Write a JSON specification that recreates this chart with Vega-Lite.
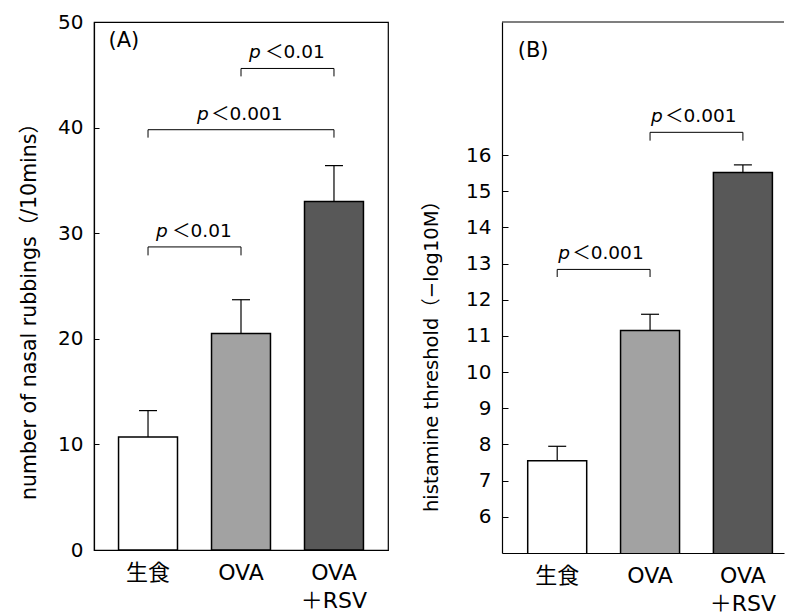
{
  "$schema": "https://vega.github.io/schema/vega-lite/v6.json",
  "padding": {"left": 18, "top": 11, "right": 0, "bottom": 0},
  "spacing": 32,
  "config": {
    "font": "DejaVu Sans, Noto Sans CJK JP",
    "view": {"stroke": "black", "strokeWidth": 1.2},
    "axis": {
      "grid": false,
      "domainColor": "black",
      "domainWidth": 1.2,
      "tickColor": "black",
      "labelColor": "black",
      "titleColor": "black",
      "labelFont": "DejaVu Sans, Noto Sans CJK JP",
      "titleFont": "DejaVu Sans, Noto Sans CJK JP",
      "labelFontSize": 20,
      "titleFontSize": 20.5,
      "titleFontWeight": "normal"
    },
    "text": {"color": "black", "font": "DejaVu Sans, Noto Sans CJK JP"}
  },
  "datasets": {
    "rubbing": [
      {"group": "生食", "mean": 10.7, "hi": 13.2},
      {"group": "OVA", "mean": 20.5, "hi": 23.7},
      {"group": "OVA＋RSV", "mean": 33.0, "hi": 36.4}
    ],
    "rubbingTests": [
      {"from": "生食", "to": "OVA", "y": 28.7, "foot": 27.9, "span": 1, "p": "＜0.01"},
      {"from": "生食", "to": "OVA＋RSV", "y": 39.8, "foot": 39.05, "span": 2, "p": "＜0.001"},
      {"from": "OVA", "to": "OVA＋RSV", "y": 45.6, "foot": 44.85, "span": 1, "p": "＜0.01"}
    ],
    "histamine": [
      {"group": "生食", "mean": 7.55, "hi": 7.95},
      {"group": "OVA", "mean": 11.15, "hi": 11.6},
      {"group": "OVA＋RSV", "mean": 15.52, "hi": 15.73}
    ],
    "histamineTests": [
      {"from": "生食", "to": "OVA", "y": 12.84, "foot": 12.63, "span": 1, "p": "＜0.001"},
      {"from": "OVA", "to": "OVA＋RSV", "y": 16.63, "foot": 16.4, "span": 1, "p": "＜0.001"}
    ]
  },
  "hconcat": [
    {
      "width": 294,
      "height": 528,
      "layer": [
        {
          "data": {"name": "rubbing"},
          "mark": {"type": "bar", "stroke": "black", "strokeWidth": 1.5},
          "encoding": {
            "x": {
              "field": "group", "type": "nominal", "title": null,
              "scale": {"domain": ["生食", "OVA", "OVA＋RSV"], "paddingInner": 0.366, "paddingOuter": 0.264},
              "axis": {"labelAngle": 0, "ticks": false, "labelPadding": 12, "labelBaseline": "top", "labelLineHeight": 28, "labelFontSize": 22,
                       "labelExpr": "datum.label == 'OVA＋RSV' ? ['OVA', '＋RSV'] : datum.label"}
            },
            "y": {
              "field": "mean", "type": "quantitative",
              "title": "number of nasal rubbings（/10mins）",
              "scale": {"domain": [0, 50], "nice": false},
              "axis": {"values": [0, 10, 20, 30, 40, 50], "tickSize": -5, "labelPadding": 16, "titlePadding": 18, "titleY": 284}
            },
            "fill": {"field": "group", "type": "nominal", "legend": null,
                     "scale": {"domain": ["生食", "OVA", "OVA＋RSV"], "range": ["#ffffff", "#a2a2a2", "#585858"]}}
          }
        },
        {
          "data": {"values": [{"panel": "(A)"}]},
          "mark": {"type": "text", "fontSize": 21, "align": "left", "baseline": "alphabetic", "dx": -10, "dy": 25},
          "encoding": {
            "x": {"datum": "生食", "type": "nominal", "bandPosition": 0, "scale": {"domain": ["生食", "OVA", "OVA＋RSV"]}},
            "y": {"datum": 50, "type": "quantitative"},
            "text": {"field": "panel"}
          }
        },
        {
          "data": {"name": "rubbing"},
          "mark": {"type": "rule", "strokeWidth": 1.2, "color": "black"},
          "encoding": {
            "x": {"field": "group", "type": "nominal", "scale": {"domain": ["生食", "OVA", "OVA＋RSV"]}},
            "y": {"field": "mean", "type": "quantitative"},
            "y2": {"field": "hi"}
          }
        },
        {
          "data": {"name": "rubbing"},
          "mark": {"type": "tick", "thickness": 1.2, "size": 18, "color": "black", "opacity": 1},
          "encoding": {
            "x": {"field": "group", "type": "nominal", "scale": {"domain": ["生食", "OVA", "OVA＋RSV"]}},
            "y": {"field": "hi", "type": "quantitative"}
          }
        },
        {
          "data": {"name": "rubbingTests"},
          "mark": {"type": "rule", "strokeWidth": 1, "color": "black"},
          "encoding": {
            "x": {"field": "from", "type": "nominal", "scale": {"domain": ["生食", "OVA", "OVA＋RSV"]}},
            "x2": {"field": "to"},
            "y": {"field": "y", "type": "quantitative"}
          }
        },
        {
          "data": {"name": "rubbingTests"},
          "transform": [{"fold": ["from", "to"], "as": ["end", "at"]}],
          "mark": {"type": "rule", "strokeWidth": 1, "color": "black"},
          "encoding": {
            "x": {"field": "at", "type": "nominal", "scale": {"domain": ["生食", "OVA", "OVA＋RSV"]}},
            "y": {"field": "y", "type": "quantitative"},
            "y2": {"field": "foot"}
          }
        },
        {
          "data": {"name": "rubbingTests"},
          "transform": [{"filter": "datum.span == 1"}],
          "mark": {"type": "text", "fontStyle": "italic", "fontSize": 18.5, "align": "left", "baseline": "alphabetic", "dx": 8, "dy": -10},
          "encoding": {
            "x": {"field": "from", "type": "nominal", "scale": {"domain": ["生食", "OVA", "OVA＋RSV"]}},
            "y": {"field": "y", "type": "quantitative"},
            "text": {"value": "p"}
          }
        },
        {
          "data": {"name": "rubbingTests"},
          "transform": [{"filter": "datum.span == 1"}],
          "mark": {"type": "text", "fontSize": 18.5, "align": "left", "baseline": "alphabetic", "dx": 24, "dy": -10},
          "encoding": {
            "x": {"field": "from", "type": "nominal", "scale": {"domain": ["生食", "OVA", "OVA＋RSV"]}},
            "y": {"field": "y", "type": "quantitative"},
            "text": {"field": "p"}
          }
        },
        {
          "data": {"name": "rubbingTests"},
          "transform": [{"filter": "datum.span == 2"}],
          "mark": {"type": "text", "fontStyle": "italic", "fontSize": 18.5, "align": "left", "baseline": "alphabetic", "dx": 49, "dy": -10},
          "encoding": {
            "x": {"field": "from", "type": "nominal", "scale": {"domain": ["生食", "OVA", "OVA＋RSV"]}},
            "y": {"field": "y", "type": "quantitative"},
            "text": {"value": "p"}
          }
        },
        {
          "data": {"name": "rubbingTests"},
          "transform": [{"filter": "datum.span == 2"}],
          "mark": {"type": "text", "fontSize": 18.5, "align": "left", "baseline": "alphabetic", "dx": 63, "dy": -10},
          "encoding": {
            "x": {"field": "from", "type": "nominal", "scale": {"domain": ["生食", "OVA", "OVA＋RSV"]}},
            "y": {"field": "y", "type": "quantitative"},
            "text": {"field": "p"}
          }
        }
      ]
    },
    {
      "width": 282,
      "height": 531,
      "view": {"stroke": null},
      "layer": [
        {
          "data": {"name": "histamine"},
          "mark": {"type": "bar", "stroke": "black", "strokeWidth": 1.5, "clip": true},
          "encoding": {
            "x": {
              "field": "group", "type": "nominal", "title": null,
              "scale": {"domain": ["生食", "OVA", "OVA＋RSV"], "paddingInner": 0.3646, "paddingOuter": 0.2009, "align": 0.689},
              "axis": {"labelAngle": 0, "ticks": false, "labelPadding": 12, "labelBaseline": "top", "labelLineHeight": 28, "labelFontSize": 22,
                       "labelExpr": "datum.label == 'OVA＋RSV' ? ['OVA', '＋RSV'] : datum.label"}
            },
            "y": {
              "field": "mean", "type": "quantitative",
              "title": "histamine threshold（−log10M）",
              "scale": {"domain": [5, 19.68], "nice": false, "zero": false},
              "axis": {"values": [6, 7, 8, 9, 10, 11, 12, 13, 14, 15, 16], "tickSize": -6, "labelPadding": 17, "titlePadding": 24, "titleY": 329, "titleFontSize": 19.5}
            },
            "fill": {"field": "group", "type": "nominal", "legend": null,
                     "scale": {"domain": ["生食", "OVA", "OVA＋RSV"], "range": ["#ffffff", "#a2a2a2", "#585858"]}}
          }
        },
        {
          "data": {"values": [{"panel": "(B)"}]},
          "mark": {"type": "text", "fontSize": 21, "align": "left", "baseline": "alphabetic", "dx": -10, "dy": 35},
          "encoding": {
            "x": {"datum": "生食", "type": "nominal", "bandPosition": 0, "scale": {"domain": ["生食", "OVA", "OVA＋RSV"]}},
            "y": {"datum": 19.68, "type": "quantitative"},
            "text": {"field": "panel"}
          }
        },
        {
          "data": {"values": [{"edge": "top"}]},
          "mark": {"type": "rule", "strokeWidth": 1.2, "color": "black"},
          "encoding": {"y": {"datum": 19.68, "type": "quantitative"}}
        },
        {
          "data": {"name": "histamine"},
          "mark": {"type": "rule", "strokeWidth": 1.2, "color": "black"},
          "encoding": {
            "x": {"field": "group", "type": "nominal", "scale": {"domain": ["生食", "OVA", "OVA＋RSV"]}},
            "y": {"field": "mean", "type": "quantitative"},
            "y2": {"field": "hi"}
          }
        },
        {
          "data": {"name": "histamine"},
          "mark": {"type": "tick", "thickness": 1.2, "size": 18, "color": "black", "opacity": 1},
          "encoding": {
            "x": {"field": "group", "type": "nominal", "scale": {"domain": ["生食", "OVA", "OVA＋RSV"]}},
            "y": {"field": "hi", "type": "quantitative"}
          }
        },
        {
          "data": {"name": "histamineTests"},
          "mark": {"type": "rule", "strokeWidth": 1, "color": "black"},
          "encoding": {
            "x": {"field": "from", "type": "nominal", "scale": {"domain": ["生食", "OVA", "OVA＋RSV"]}},
            "x2": {"field": "to"},
            "y": {"field": "y", "type": "quantitative"}
          }
        },
        {
          "data": {"name": "histamineTests"},
          "transform": [{"fold": ["from", "to"], "as": ["end", "at"]}],
          "mark": {"type": "rule", "strokeWidth": 1, "color": "black"},
          "encoding": {
            "x": {"field": "at", "type": "nominal", "scale": {"domain": ["生食", "OVA", "OVA＋RSV"]}},
            "y": {"field": "y", "type": "quantitative"},
            "y2": {"field": "foot"}
          }
        },
        {
          "data": {"name": "histamineTests"},
          "mark": {"type": "text", "fontStyle": "italic", "fontSize": 18.5, "align": "left", "baseline": "alphabetic", "dx": 1, "dy": -10},
          "encoding": {
            "x": {"field": "from", "type": "nominal", "scale": {"domain": ["生食", "OVA", "OVA＋RSV"]}},
            "y": {"field": "y", "type": "quantitative"},
            "text": {"value": "p"}
          }
        },
        {
          "data": {"name": "histamineTests"},
          "mark": {"type": "text", "fontSize": 18.5, "align": "left", "baseline": "alphabetic", "dx": 15, "dy": -10},
          "encoding": {
            "x": {"field": "from", "type": "nominal", "scale": {"domain": ["生食", "OVA", "OVA＋RSV"]}},
            "y": {"field": "y", "type": "quantitative"},
            "text": {"field": "p"}
          }
        }
      ]
    }
  ]
}
